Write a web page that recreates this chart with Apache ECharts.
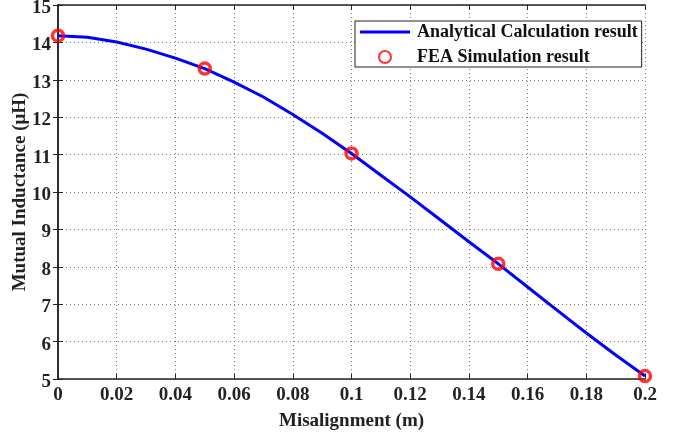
<!DOCTYPE html>
<html>
<head>
<meta charset="utf-8">
<script src="https://cdn.jsdelivr.net/npm/echarts@6/dist/echarts.min.js"></script>
<style>
    html, body { margin: 0; padding: 0; background: #fff; }
    #chart { width: 690px; height: 436px; }
</style>
</head>
<body>
<div id="chart"></div>
<script>
    // misalignment (m) and mutual inductance (uH)
    var misalign = [0, 0.01, 0.02, 0.03, 0.04, 0.05, 0.06, 0.07, 0.08, 0.09, 0.10,
        0.11, 0.12, 0.13, 0.14, 0.15, 0.16, 0.17, 0.18, 0.19, 0.20];
    var analytical = [14.18, 14.14, 14.01, 13.82, 13.58, 13.30, 12.94, 12.54, 12.07, 11.57, 11.03,
        10.45, 9.87, 9.27, 8.67, 8.08, 7.46, 6.84, 6.23, 5.64, 5.08];
    var feaX = [0, 0.05, 0.10, 0.15, 0.20];
    var feaVal = [14.18, 13.30, 11.03, 8.08, 5.08];

    var font = '"Liberation Serif", "Times New Roman", serif';

    var lineData = misalign.map(function (x, i) { return [x, analytical[i]]; });
    var feaData = feaX.map(function (x, i) { return [x, feaVal[i]]; });

    var gridLine = { show: true, lineStyle: { color: '#777', type: [1, 3], width: 1 } };
    var frame = { show: true, lineStyle: { color: '#222', width: 1.5 } };
    var tick = { show: true, inside: true, length: 5, lineStyle: { color: '#222' } };

    var myChart = echarts.init(document.getElementById('chart'));
    var option = {
        animation: false,
        backgroundColor: '#fff',
        grid: { left: 58, top: 5, right: 45, bottom: 57, containLabel: false, outerBoundsMode: 'none' },
        legend: {
            orient: 'vertical',
            left: 355,
            top: 21,
            padding: [2, 4, 1, 5],
            itemGap: 7,
            itemWidth: 50,
            itemHeight: 12,
            borderColor: '#222',
            borderWidth: 1,
            backgroundColor: '#fff',
            textStyle: { fontFamily: font, fontWeight: 'bold', fontSize: 18, color: '#111', padding: [0, 0, 0, 2] },
            data: [
                { name: 'Analytical Calculation result', icon: 'path://M0,0H50V3.2H0Z' },
                { name: 'FEA Simulation result' }
            ]
        },
        xAxis: [{
            type: 'value',
            min: 0,
            max: 0.2,
            interval: 0.02,
            name: 'Misalignment (m)',
            nameLocation: 'middle',
            nameGap: 33,
            nameTextStyle: { fontFamily: font, fontWeight: 'bold', fontSize: 19, color: '#222' },
            axisLine: frame,
            axisTick: tick,
            axisLabel: {
                fontFamily: font, fontWeight: 'bold', fontSize: 19, color: '#222', margin: 7,
                formatter: function (v) { return String(parseFloat(v.toFixed(2))); }
            },
            splitLine: gridLine
        }, {
            type: 'value',
            position: 'top',
            min: 0,
            max: 0.2,
            interval: 0.02,
            axisLine: frame,
            axisTick: tick,
            axisLabel: { show: false },
            splitLine: { show: false }
        }],
        yAxis: [{
            type: 'value',
            min: 5,
            max: 15,
            interval: 1,
            name: 'Mutual Inductance (\u03bcH)',
            nameLocation: 'middle',
            nameGap: 28,
            nameMoveOverlap: false,
            nameTextStyle: { fontFamily: font, fontWeight: 'bold', fontSize: 19, color: '#222' },
            axisLine: frame,
            axisTick: tick,
            axisLabel: {
                fontFamily: font, fontWeight: 'bold', fontSize: 19, color: '#222', margin: 7,
                verticalAlign: 'top', lineHeight: 6
            },
            splitLine: gridLine
        }, {
            type: 'value',
            position: 'right',
            min: 5,
            max: 15,
            interval: 1,
            axisLine: frame,
            axisTick: tick,
            axisLabel: { show: false },
            splitLine: { show: false }
        }],
        series: [{
            name: 'Analytical Calculation result',
            type: 'line',
            data: lineData,
            symbol: 'none',
            color: '#0000ff',
            lineStyle: { color: '#0000ff', width: 3 },
            z: 2
        }, {
            name: 'FEA Simulation result',
            type: 'scatter',
            data: feaData,
            symbol: 'circle',
            symbolSize: 11,
            color: '#ff0000',
            itemStyle: { color: 'rgba(255,255,255,0)', borderColor: '#ff0000', borderWidth: 3.5 },
            z: 3
        }]
    };
    myChart.setOption(option);
</script>
</body>
</html>
